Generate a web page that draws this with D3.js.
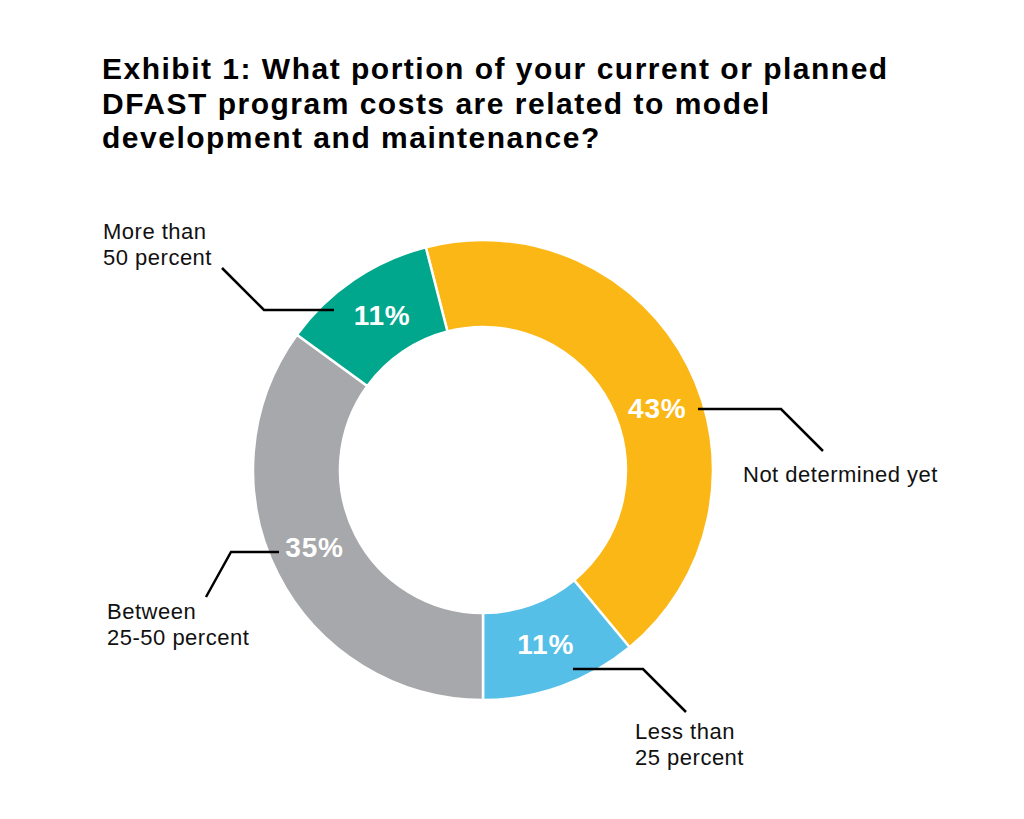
<!DOCTYPE html>
<html>
<head>
<meta charset="utf-8">
<script src="https://cdn.jsdelivr.net/npm/d3@7"></script>
<style>
  body { margin: 0; background: #fff; }
  svg { font-family: "Liberation Sans", Arial, sans-serif; }
</style>
</head>
<body>
<div class="graph"></div>
<script>
// data
var categories = ["Not determined yet", "Less than 25 percent", "Between 25-50 percent", "More than 50 percent"]
var values = [43, 11, 35, 11]
var colors = ["#FBB715", "#56BFE8", "#A7A8AB", "#00A78C"]
var labelLines = [["Not determined yet"], ["Less than", "25 percent"], ["Between", "25-50 percent"], ["More than", "50 percent"]]
var titleLines = [
    "Exhibit 1: What portion of your current or planned",
    "DFAST program costs are related to model",
    "development and maintenance?"
]

// size
var width = 1024, height = 819
var cx = 483, cy = 470
var outerR = 230, innerR = 143

var svg = d3.select('.graph')
    .append('svg')
    .attr('width', width)
    .attr('height', height)

// title
svg.append('g').selectAll('text')
    .data(titleLines)
    .enter().append('text')
    .attr('x', 102)
    .attr('y', function(d, i) { return 79 + i * 34.5 })
    .style('font-size', '30px')
    .style('font-weight', 'bold')
    .style('letter-spacing', '1.5px')
    .style('fill', '#000')
    .text(function(d) { return d })

var canvas = svg.append('g')
    .attr('transform', 'translate(' + cx + ',' + cy + ')')

// pie starts so that orange + blue end at the bottom
var startA = Math.PI - (values[0] + values[1]) / 100 * 2 * Math.PI
var pie = d3.pie().sort(null).value(function(d) { return d })
    .startAngle(startA).endAngle(startA + 2 * Math.PI)
var arcs = pie(values)

var arc = d3.arc().innerRadius(innerR).outerRadius(outerR)

canvas.selectAll('path.slice')
    .data(arcs)
    .enter().append('path')
    .attr('class', 'slice')
    .attr('d', arc)
    .style('fill', function(d, i) { return colors[i] })
    .style('stroke', '#fff')
    .style('stroke-width', 2.5)

// percent labels, small angle nudges so they sit like the original
var angleNudge = [0.13, 0, 0.045, 0.02]
var labelR = 185
function labelPos(d, i) {
    var a = (d.startAngle + d.endAngle) / 2 + angleNudge[i]
    return [labelR * Math.sin(a), -labelR * Math.cos(a)]
}
canvas.selectAll('text.pct')
    .data(arcs)
    .enter().append('text')
    .attr('class', 'pct')
    .attr('x', function(d, i) { return labelPos(d, i)[0] })
    .attr('y', function(d, i) { return labelPos(d, i)[1] })
    .attr('text-anchor', 'middle')
    .attr('dy', '0.36em')
    .style('font-size', '28px')
    .style('font-weight', 'bold')
    .style('letter-spacing', '0.8px')
    .style('fill', '#fff')
    .text(function(d) { return d.data + '%' })

// leader lines (absolute page coords) and category label spots
var leaders = [
    [[698, 409], [781, 409], [823, 451]],
    [[573, 669], [643, 669], [686, 712]],
    [[279, 552], [231, 552], [206, 597]],
    [[334, 310], [264, 310], [222, 268]]
]
var textSpots = [[743, 482], [635, 739], [107, 619], [103, 239]]

var line = d3.line()
svg.append('g').selectAll('path')
    .data(leaders)
    .enter().append('path')
    .attr('d', line)
    .style('fill', 'none')
    .style('stroke', '#000')
    .style('stroke-width', 2.5)

var lab = svg.append('g').selectAll('text')
    .data(labelLines)
    .enter().append('text')
    .attr('x', function(d, i) { return textSpots[i][0] })
    .attr('y', function(d, i) { return textSpots[i][1] })
    .style('font-size', '22px')
    .style('letter-spacing', '0.5px')
    .style('fill', '#111')

lab.selectAll('tspan')
    .data(function(d, i) { return d.map(function(t) { return { t: t, x: textSpots[i][0] } }) })
    .enter().append('tspan')
    .attr('x', function(d) { return d.x })
    .attr('dy', function(d, j) { return j === 0 ? 0 : 25.5 })
    .text(function(d) { return d.t })
</script>
</body>
</html>
